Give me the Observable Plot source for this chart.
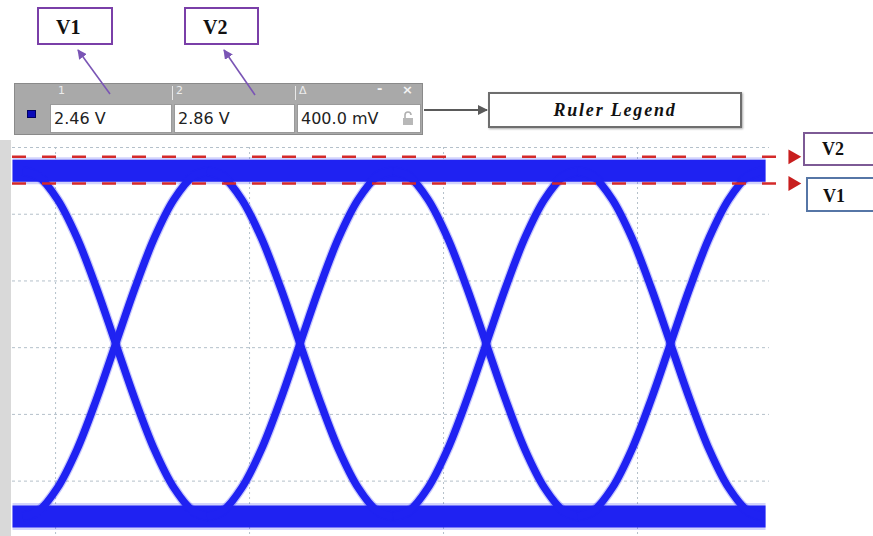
<!DOCTYPE html>
<html><head><meta charset="utf-8">
<script src="https://cdn.jsdelivr.net/npm/d3@7"></script>
<script src="https://cdn.jsdelivr.net/npm/@observablehq/plot@0.6"></script>
<style>
body{margin:0;background:#fff;}
#wrap{position:relative;width:873px;height:536px;overflow:hidden;background:#fff;}
#wrap svg.plot{position:absolute;left:0;top:0;}
.abs{position:absolute;box-sizing:border-box;}
.ann{font-family:"Liberation Serif","DejaVu Serif",serif;font-weight:bold;color:#111;background:#fff;}
.rl{font-family:"DejaVu Sans",sans-serif;}
</style></head><body><div id="wrap"></div>
<script>
// x: time in screen divisions, y: voltage (V)
const xGrid = [1, 2, 3, 4];
const yGrid = [-2, -1, 0, 1, 2, 3];
const crossings = [1.31, 2.26, 3.22, 4.17];
const edgeOffset = [-0.48, -0.4, -0.3, -0.2, -0.1, 0, 0.1, 0.2, 0.3, 0.4, 0.48];
const fallingEdge = [2.65, 2.57, 2.22, 1.65, 0.90, 0.06, -0.78, -1.53, -2.10, -2.45, -2.53];
const highLevel = 2.65;
const lowLevel = -2.53;
const traceSpan = [0.778, 4.66];
const rulerNames = ["V1", "V2"];
const rulerValues = [2.46, 2.86];
const rulerDelta = "400.0 mV";
const rulerSpan = [0.778, 4.745];
const rulerHeadX = 4.80;

const bands = [
  {id: "high", t: traceSpan[0], v: highLevel}, {id: "high", t: traceSpan[1], v: highLevel},
  {id: "low", t: traceSpan[0], v: lowLevel}, {id: "low", t: traceSpan[1], v: lowLevel}
];
const edges = [];
crossings.forEach((c, k) => {
  edgeOffset.forEach((o, i) => {
    edges.push({id: "f" + k, t: c + o, v: fallingEdge[i]});
    edges.push({id: "r" + k, t: c + o, v: fallingEdge[fallingEdge.length - 1 - i]});
  });
});
const blue = "#1f22f2";

const plot = Plot.plot({
  width: 873, height: 536,
  marginLeft: 12, marginRight: 106, marginTop: 147, marginBottom: 0,
  x: {domain: [0.778, 4.67], axis: null},
  y: {domain: [-2.83, 3], axis: null},
  style: {background: "transparent", overflow: "visible"},
  marks: [
    Plot.ruleY(yGrid, {x1: 0.778, x2: 4.68, stroke: "#b4c0ca", strokeDasharray: "3,3", strokeWidth: 1}),
    Plot.ruleX(xGrid, {stroke: "#b4c0ca", strokeDasharray: "2,3", strokeWidth: 1}),
    Plot.line(bands, {x: "t", y: "v", z: "id", stroke: blue, strokeWidth: 27, strokeOpacity: 0.2, strokeLinecap: "butt"}),
    Plot.line(bands, {x: "t", y: "v", z: "id", stroke: blue, strokeWidth: 22, strokeLinecap: "butt"}),
    Plot.line(edges, {x: "t", y: "v", z: "id", stroke: blue, strokeWidth: 10, strokeOpacity: 0.25, strokeLinecap: "butt", curve: "catmull-rom"}),
    Plot.line(edges, {x: "t", y: "v", z: "id", stroke: blue, strokeWidth: 7.5, strokeLinecap: "butt", curve: "catmull-rom"}),
    Plot.ruleY(rulerValues, {x1: rulerSpan[0], x2: rulerSpan[1], stroke: "#d42a2a", strokeWidth: 2.5, strokeDasharray: "14,16"}),
    Plot.dot(rulerValues, {x: rulerHeadX, y: d => d, symbol: "triangle", rotate: 90, fill: "#c81e1e", r: 5.5})
  ]
});
plot.classList.add("plot");
const wrap = document.getElementById("wrap");

// left grey strip
const strip = document.createElement("div");
strip.className = "abs";
strip.style.cssText = "left:0;top:140px;width:11px;height:396px;background:#d9d9d9;";
wrap.appendChild(strip);
wrap.appendChild(plot);

function box(css, html, cls) {
  const d = document.createElement("div");
  d.className = "abs " + (cls || "");
  d.style.cssText = css;
  d.innerHTML = html || "";
  wrap.appendChild(d);
  return d;
}

// Ruler legend widget
box("left:14px;top:83px;width:409px;height:52px;background:#a9a9a9;border:1px solid #8a8a8a;", "");
box("left:58px;top:84px;font:11px 'DejaVu Sans',sans-serif;color:#ececec;", "1");
box("left:172px;top:86px;width:1px;height:14px;background:#e8e8e8;", "");
box("left:176px;top:84px;font:11px 'DejaVu Sans',sans-serif;color:#ececec;", "2");
box("left:295px;top:86px;width:1px;height:14px;background:#e8e8e8;", "");
box("left:299px;top:84px;font:11px 'DejaVu Sans',sans-serif;color:#ececec;", "\u0394");
box("left:377px;top:81px;font:bold 13px 'DejaVu Sans',sans-serif;color:#f4f4f4;", "-");
box("left:402px;top:82px;font:bold 13px 'DejaVu Sans',sans-serif;color:#f4f4f4;", "\u00d7");
box("left:27px;top:110px;width:9px;height:8px;background:#0a0ab8;border:1px solid #000060;", "");
const cellX = [[50, 122], [174, 121], [297, 124]];
const cellText = [rulerValues[0].toFixed(2) + " V", rulerValues[1].toFixed(2) + " V", rulerDelta];
cellX.forEach(([l, w], i) => {
  box(`left:${l}px;top:104px;width:${w}px;height:29px;background:#fff;border:1px solid #9a9a9a;padding:4px 0 0 3px;font:16px 'DejaVu Sans',sans-serif;color:#222;white-space:nowrap;`, cellText[i], "rl");
});
box("left:402px;top:111px;width:12px;height:14px;", '<svg width="12" height="14"><path d="M3 7 V4 a3 3 0 0 1 6 0" fill="none" stroke="#b0b0b0" stroke-width="1.6"/><rect x="1" y="7" width="10" height="7" fill="#b8b8b8"/></svg>');

// annotation boxes
box("left:37px;top:7px;width:76px;height:38px;border:2px solid #7a3fa8;font-size:20px;padding:7px 0 0 17px;", rulerNames[0], "ann");
box("left:184px;top:7px;width:75px;height:38px;border:2px solid #7a3fa8;font-size:20px;padding:7px 0 0 17px;", rulerNames[1], "ann");
box("left:488px;top:92px;width:254px;height:36px;border:2px solid #6e6e6e;box-shadow:1px 1px 2px #aaa;font-size:18px;font-style:italic;letter-spacing:1.8px;text-align:center;padding-top:6px;", "Ruler Legend", "ann");
box("left:803px;top:132px;width:80px;height:34px;border:2px solid #7d5a95;font-size:18px;padding:5px 0 0 17px;", rulerNames[1], "ann");
box("left:806px;top:177px;width:80px;height:35px;border:2px solid #5676a6;font-size:18px;padding:7px 0 0 15px;", rulerNames[0], "ann");

// annotation arrows
const ov = document.createElementNS("http://www.w3.org/2000/svg", "svg");
ov.setAttribute("width", 873); ov.setAttribute("height", 536);
ov.style.cssText = "position:absolute;left:0;top:0;pointer-events:none;";
ov.innerHTML = `
<defs>
<marker id="ap" viewBox="0 0 10 10" refX="9" refY="5" markerWidth="6" markerHeight="6" orient="auto"><path d="M0 0 L10 5 L0 10 z" fill="#7a55b5"/></marker>
<marker id="ag" viewBox="0 0 10 10" refX="9" refY="5" markerWidth="5" markerHeight="5" orient="auto"><path d="M0 0 L10 5 L0 10 z" fill="#5a5a5a"/></marker>
</defs>
<line x1="110" y1="94" x2="78" y2="50" stroke="#7a55b5" stroke-width="1.6" marker-end="url(#ap)"/>
<line x1="255" y1="95" x2="224" y2="50" stroke="#7a55b5" stroke-width="1.6" marker-end="url(#ap)"/>
<line x1="424" y1="110" x2="487" y2="110" stroke="#5a5a5a" stroke-width="2" marker-end="url(#ag)"/>`;
wrap.appendChild(ov);
</script></body></html>
